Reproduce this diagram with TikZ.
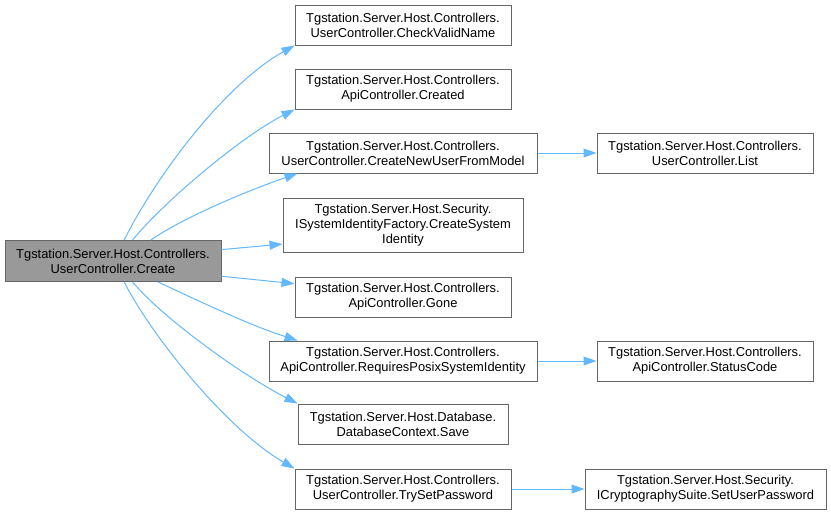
\documentclass[tikz,border=0pt]{standalone}
\usepackage{fontspec}
\setmainfont{Liberation Sans}
\usetikzlibrary{arrows.meta}
\definecolor{edgeblue}{HTML}{63B8FF}
\definecolor{boxline}{HTML}{666666}
\definecolor{rootfill}{HTML}{999999}
\tikzset{
  fnode/.style={draw=boxline, line width=1pt, fill=white, align=center, inner sep=0pt,
    font=\fontsize{12.9}{15}\selectfont, text=black},
  rootnode/.style={fnode, fill=rootfill},
  edge/.style={draw=edgeblue, line width=1pt, -{Triangle[length=13pt,width=9pt]}}
}
\begin{document}
\begin{tikzpicture}[x=1pt,y=-1pt]
\useasboundingbox (0,0) rectangle (831,515);
\node[rootnode, minimum width=216pt, minimum height=41pt] (root) at (113,261) {Tgstation.Server.Host.Controllers.\\UserController.Create};
\node[fnode, minimum width=216pt, minimum height=40pt] (cvn) at (403,25) {Tgstation.Server.Host.Controllers.\\UserController.CheckValidName};
\node[fnode, minimum width=216pt, minimum height=40pt] (created) at (403,89) {Tgstation.Server.Host.Controllers.\\ApiController.Created};
\node[fnode, minimum width=268pt, minimum height=40pt] (cnufm) at (403,153) {Tgstation.Server.Host.Controllers.\\UserController.CreateNewUserFromModel};
\node[fnode, minimum width=240pt, minimum height=54pt] (csi) at (403,225) {Tgstation.Server.Host.Security.\\ISystemIdentityFactory.CreateSystem\\Identity};
\node[fnode, minimum width=216pt, minimum height=40pt] (gone) at (403,297) {Tgstation.Server.Host.Controllers.\\ApiController.Gone};
\node[fnode, minimum width=268pt, minimum height=40pt] (req) at (403,361) {Tgstation.Server.Host.Controllers.\\ApiController.RequiresPosixSystemIdentity};
\node[fnode, minimum width=210pt, minimum height=40pt] (save) at (403,424) {Tgstation.Server.Host.Database.\\DatabaseContext.Save};
\node[fnode, minimum width=216pt, minimum height=40pt] (tsp) at (403,489) {Tgstation.Server.Host.Controllers.\\UserController.TrySetPassword};
\node[fnode, minimum width=216pt, minimum height=40pt] (list) at (705,153) {Tgstation.Server.Host.Controllers.\\UserController.List};
\node[fnode, minimum width=216pt, minimum height=40pt] (status) at (705,361) {Tgstation.Server.Host.Controllers.\\ApiController.StatusCode};
\node[fnode, minimum width=241pt, minimum height=40pt] (setpw) at (705.5,489) {Tgstation.Server.Host.Security.\\ICryptographySuite.SetUserPassword};

\draw[edge] (root.62) .. controls +(32,-64) and +(-70,39) .. (cvn.south west);
\draw[edge] (root.47) .. controls +(32,-39) and +(-53,27) .. (created.south west);
\draw[edge] (root.29) .. controls +(33,-23) and +(-47,16) .. (cnufm.191);
\draw[edge] (root.6) -- (csi.189);
\draw[edge] (root.-8) -- (gone.173);
\draw[edge] (root.-25.5) .. controls +(45,21) and +(-47,-15) .. (req.169);
\draw[edge] (root.-47) .. controls +(32,38) and +(-53,-27) .. (save.north west);
\draw[edge] (root.-62) .. controls +(27,53) and +(-69,-40) .. (tsp.north west);
\draw[edge] (cnufm.east) -- (list.west);
\draw[edge] (req.east) -- (status.west);
\draw[edge] (tsp.east) -- (setpw.west);
\end{tikzpicture}
\end{document}
